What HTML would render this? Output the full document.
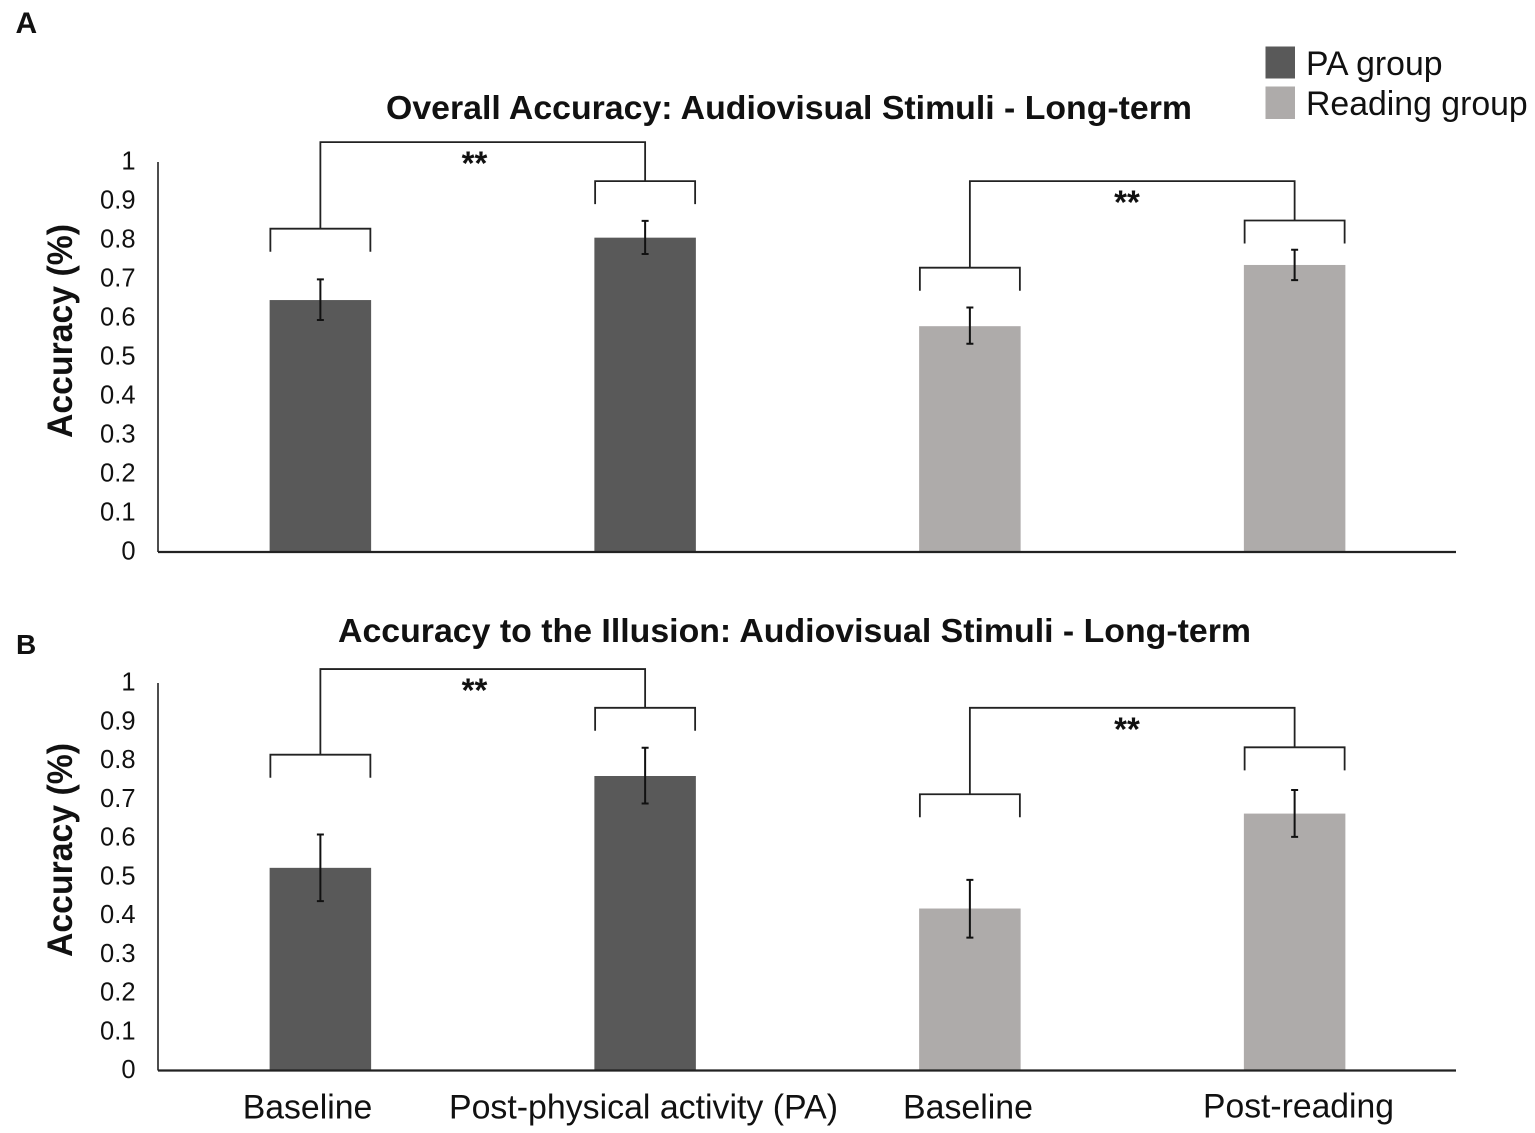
<!DOCTYPE html>
<html>
<head>
<meta charset="utf-8">
<title>Accuracy chart</title>
<style>
html,body{margin:0;padding:0;background:#fff;}
svg{display:block;}
text{font-family:"Liberation Sans",sans-serif;fill:#111;}
</style>
</head>
<body>
<svg id="chart" xmlns="http://www.w3.org/2000/svg" width="1535" height="1133" viewBox="0 0 1535 1133">
  <rect x="0" y="0" width="1535" height="1133" fill="#fff"/>
  <text x="15.5" y="33" font-size="30" font-weight="700">A</text>
  <text x="16" y="654" font-size="28" font-weight="700">B</text>
  <g>
    <rect x="1265.5" y="46.5" width="29.5" height="32" fill="#595959"/>
    <text x="1306" y="75" font-size="33.8" fill="#222">PA group</text>
    <rect x="1265.5" y="86.5" width="29.5" height="32.5" fill="#aeabaa"/>
    <text x="1306" y="115" font-size="33.8" fill="#222">Reading group</text>
  </g>
  <text x="307.5" y="1118.5" font-size="34" text-anchor="middle" fill="#222" textLength="129.5" lengthAdjust="spacingAndGlyphs">Baseline</text>
  <text x="643.5" y="1118.5" font-size="34" text-anchor="middle" fill="#222" textLength="389" lengthAdjust="spacingAndGlyphs">Post-physical activity (PA)</text>
  <text x="968" y="1118.5" font-size="34" text-anchor="middle" fill="#222" textLength="130" lengthAdjust="spacingAndGlyphs">Baseline</text>
  <text x="1298.5" y="1117.5" font-size="34" text-anchor="middle" fill="#222" textLength="191" lengthAdjust="spacingAndGlyphs">Post-reading</text>
</svg>
<script>
var categories = ["pa-baseline", "pa-post", "reading-baseline", "reading-post"];
var tickLabels = ["0", "0.1", "0.2", "0.3", "0.4", "0.5", "0.6", "0.7", "0.8", "0.9", "1"];
var tickValues = [0, 0.1, 0.2, 0.3, 0.4, 0.5, 0.6, 0.7, 0.8, 0.9, 1];

var panelAValues = [0.646, 0.806, 0.579, 0.736];
var panelAErrHigh = [0.699, 0.849, 0.627, 0.775];
var panelAErrLow = [0.595, 0.764, 0.534, 0.697];
var panelABracketTops = [0.829, 0.951, 0.729, 0.850];
var panelASpanTops = [1.051, 0.951];

var panelBValues = [0.523, 0.760, 0.418, 0.663];
var panelBErrHigh = [0.609, 0.833, 0.492, 0.724];
var panelBErrLow = [0.437, 0.689, 0.343, 0.603];
var panelBBracketTops = [0.815, 0.936, 0.713, 0.834];
var panelBSpanTops = [1.036, 0.936];

var svg = document.getElementById('chart');
var SVGNS = 'http://www.w3.org/2000/svg';
var plotLeft = 158, plotRight = 1456, bandWidth = 324.75, barWidth = 101.5;
var groupColors = ['#595959', '#595959', '#aeabaa', '#aeabaa'];

function make(parent, tag, attrs, txt) {
  var el = document.createElementNS(SVGNS, tag);
  for (var k in attrs) el.setAttribute(k, attrs[k]);
  if (txt !== undefined) el.textContent = txt;
  parent.appendChild(el);
  return el;
}
function xCenter(i) {
  return plotLeft + (i + 0.5) * bandWidth;
}
function yScale(panel) {
  return function (v) { return panel.base - v * panel.height; };
}

function drawPanel(panel) {
  var y = yScale(panel);
  var g = make(svg, 'g', {});
  
  

  var title = make(g, 'text', {x: 615 + panel.titleShift, y: panel.titleY, 'font-size': 33, 'font-weight': 700, 'text-anchor': 'middle', textLength: panel.titleLength, lengthAdjust: 'spacingAndGlyphs'}, panel.title);
  
  

  var yt = make(g, 'text', {transform: 'translate(72,' + panel.yTitleCenter + ') rotate(-90)', 'font-size': 35, 'font-weight': 700, 'text-anchor': 'middle', textLength: 214, lengthAdjust: 'spacingAndGlyphs'}, 'Accuracy (%)');
  
  

  tickValues.forEach(function (t, i) {
    var lab = make(g, 'text', {x: 135.5, y: y(t) + 7.5, 'font-size': 25.5, 'text-anchor': 'end', fill: '#222'}, tickLabels[i]);
    
    
  });

  categories.forEach(function (c, i) {
    var top = y(panel.values[i]);
    var bar = make(g, 'rect', {x: xCenter(i) - barWidth / 2, y: top, width: barWidth, height: panel.base - top, fill: groupColors[i]});
    
    
  });

  var yAxis = make(g, 'line', {x1: plotLeft, x2: plotLeft, y1: y(1), y2: panel.base, stroke: '#222', 'stroke-width': 1.6});
  
  
  var xAxis = make(g, 'line', {x1: plotLeft, x2: plotRight, y1: panel.base, y2: panel.base, stroke: '#222', 'stroke-width': 2.2});
  
  

  categories.forEach(function (c, i) {
    var cx = xCenter(i), hi = y(panel.errHigh[i]), lo = y(panel.errLow[i]);
    var d = 'M' + (cx - 3.5) + ' ' + hi + 'H' + (cx + 3.5) + 'M' + cx + ' ' + hi + 'V' + lo + 'M' + (cx - 3.5) + ' ' + lo + 'H' + (cx + 3.5);
    var err = make(g, 'path', {d: d, fill: 'none', stroke: '#111', 'stroke-width': 2});
    
    
  });

  categories.forEach(function (c, i) {
    var cx = xCenter(i), top = y(panel.bracketTops[i]), half = 50, leg = 23;
    var d = 'M' + (cx - half) + ' ' + (top + leg) + 'V' + top + 'H' + (cx + half) + 'V' + (top + leg);
    var br = make(g, 'path', {d: d, fill: 'none', stroke: '#222', 'stroke-width': 1.8});
    
    
  });

  panel.spanTops.forEach(function (s, k) {
    var a = k * 2, b = a + 1, top = y(s);
    var d = 'M' + xCenter(a) + ' ' + y(panel.bracketTops[a]) + 'V' + top + 'H' + xCenter(b) + 'V' + y(panel.bracketTops[b]);
    var sp = make(g, 'path', {d: d, fill: 'none', stroke: '#222', 'stroke-width': 1.8});
    
    
    var mid = k === 0 ? 474.5 : 1127;
    var st = make(g, 'text', {x: mid, y: top + 32.5, 'font-size': 33, 'font-weight': 700, 'text-anchor': 'middle'}, '**');
    
    
  });
}

drawPanel({
  id: 'panel-a', title: 'Overall Accuracy: Audiovisual Stimuli - Long-term',
  titleShift: 174, titleY: 119, titleLength: 806, yTitleCenter: 331,
  base: 552, height: 390,
  values: panelAValues, errHigh: panelAErrHigh, errLow: panelAErrLow,
  bracketTops: panelABracketTops, spanTops: panelASpanTops
});
drawPanel({
  id: 'panel-b', title: 'Accuracy to the Illusion: Audiovisual Stimuli - Long-term',
  titleShift: 179.5, titleY: 642, titleLength: 913, yTitleCenter: 850,
  base: 1070.5, height: 387.5,
  values: panelBValues, errHigh: panelBErrHigh, errLow: panelBErrLow,
  bracketTops: panelBBracketTops, spanTops: panelBSpanTops
});
</script>
</body>
</html>
